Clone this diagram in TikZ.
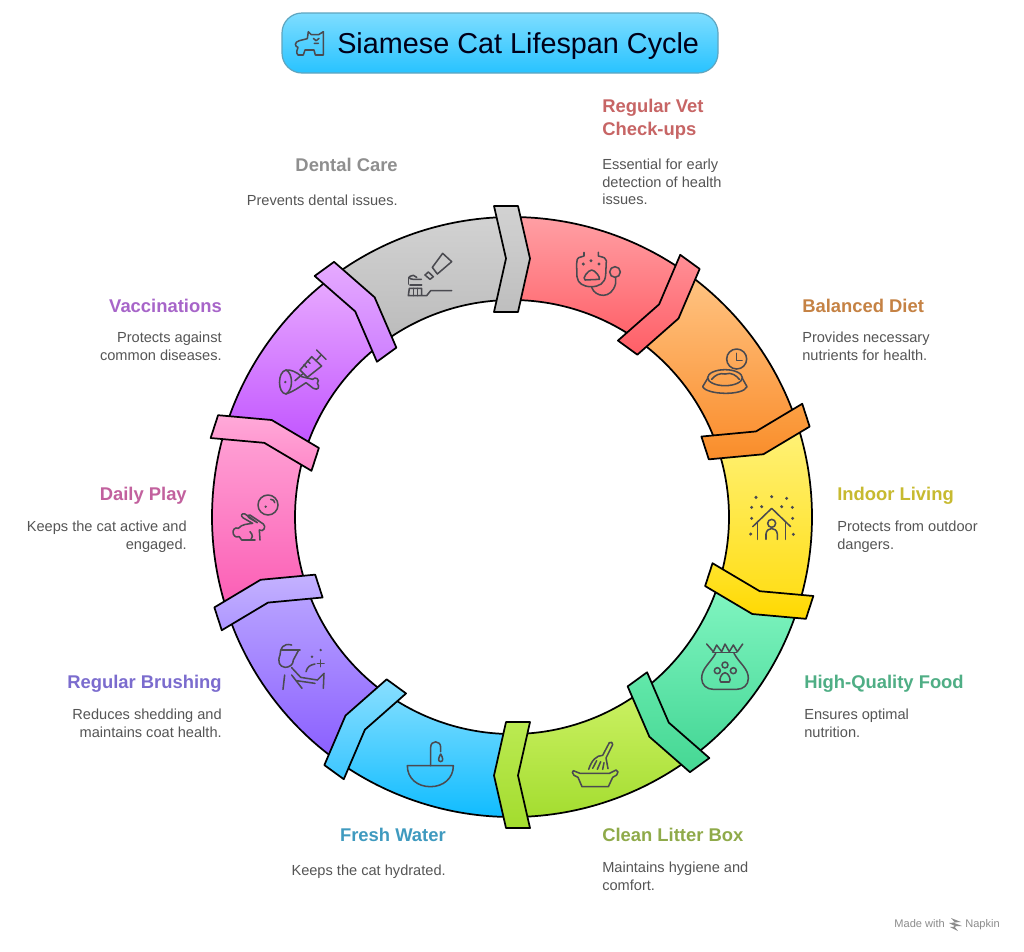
\documentclass[tikz,border=0pt]{standalone}
\usepackage{fontspec}
\setmainfont{Liberation Sans}
\usetikzlibrary{calc}
\definecolor{stroke}{HTML}{505054}
\definecolor{iconc}{HTML}{4A4A50}
\definecolor{titleline}{HTML}{5FA5BF}
\definecolor{seg0T}{HTML}{D2D2D2}\definecolor{seg0B}{HTML}{BBBBBB}
\definecolor{seg1T}{HTML}{FF9FA4}\definecolor{seg1B}{HTML}{FF6068}
\definecolor{seg2T}{HTML}{FFC483}\definecolor{seg2B}{HTML}{FA8E2E}
\definecolor{seg3T}{HTML}{FFF27A}\definecolor{seg3B}{HTML}{FFDD12}
\definecolor{seg4T}{HTML}{82F6C2}\definecolor{seg4B}{HTML}{45D796}
\definecolor{seg5T}{HTML}{CBF163}\definecolor{seg5B}{HTML}{A4DD30}
\definecolor{seg6T}{HTML}{7EDDFF}\definecolor{seg6B}{HTML}{10BCFF}
\definecolor{seg7T}{HTML}{BAA6FF}\definecolor{seg7B}{HTML}{8A5EFF}
\definecolor{seg8T}{HTML}{FFA4D6}\definecolor{seg8B}{HTML}{FB5CB4}
\definecolor{seg9T}{HTML}{E9ACFF}\definecolor{seg9B}{HTML}{C052FF}
\definecolor{chv0T}{HTML}{D2D2D2}\definecolor{chv0B}{HTML}{BEBEBE}
\definecolor{chv1T}{HTML}{FF8F96}\definecolor{chv1B}{HTML}{FF5E66}
\definecolor{chv2T}{HTML}{FBA044}\definecolor{chv2B}{HTML}{F98C2A}
\definecolor{chv3T}{HTML}{FFE42C}\definecolor{chv3B}{HTML}{FFD800}
\definecolor{chv4T}{HTML}{62E8AA}\definecolor{chv4B}{HTML}{46D794}
\definecolor{chv5T}{HTML}{BBEA52}\definecolor{chv5B}{HTML}{A3DC2E}
\definecolor{chv6T}{HTML}{88DFFF}\definecolor{chv6B}{HTML}{3CC6FF}
\definecolor{chv7T}{HTML}{C4B2FF}\definecolor{chv7B}{HTML}{AE96FF}
\definecolor{chv8T}{HTML}{FFAAD9}\definecolor{chv8B}{HTML}{FF88C8}
\definecolor{chv9T}{HTML}{E6AAFF}\definecolor{chv9B}{HTML}{CE80FF}
\definecolor{hRed}{HTML}{C76565}
\definecolor{hOrange}{HTML}{C58244}
\definecolor{hYellow}{HTML}{C7BA30}
\definecolor{hGreen}{HTML}{4FAE85}
\definecolor{hLime}{HTML}{8FAA4A}
\definecolor{hBlue}{HTML}{3F9ABF}
\definecolor{hIndigo}{HTML}{7B6CCE}
\definecolor{hPink}{HTML}{C2619E}
\definecolor{hViolet}{HTML}{A765C9}
\definecolor{hGray}{HTML}{8F8F8F}
\definecolor{bodyc}{HTML}{555555}
\tikzset{
  head/.style={font=\fontsize{13.8}{17.3}\selectfont\bfseries,inner sep=0pt},
  body/.style={font=\fontsize{10.95}{13.2}\selectfont,inner sep=0pt,text=bodyc},
  icon/.style={draw=iconc,line width=1.15pt,line cap=round,line join=round,fill=none},
}
\begin{document}
\begin{tikzpicture}[x=0.75pt,y=-0.75pt]
\useasboundingbox (0,0) rectangle (1024,951);
\fill[white] (0,0) rectangle (1024,951);
% title
\shade[top color=seg6T,bottom color=seg6B!90!white,rounded corners=15pt] (282,13) rectangle (718,73);
\draw[draw=titleline,line width=0.9pt,rounded corners=15pt] (282,13) rectangle (718,73);
\node[inner sep=0pt,anchor=west,font=\fontsize{21.6}{26}\selectfont,text=black!90!blue] (title) at (337,46.5) {Siamese Cat Lifespan Cycle};
% ring
\begin{scope}[shift={(512,517)}]
\foreach \k in {0,...,9}{
  \pgfmathsetmacro\as{-126+36*\k}
  \pgfmathsetmacro\ae{-90+36*\k}
  \shade[top color=seg\k T,bottom color=seg\k B]
    (\as:300) arc[start angle=\as,end angle=\ae,radius=300] -- (\ae:217) arc[start angle=\ae,end angle=\as,radius=217] -- cycle;
  \draw[stroke,line width=1.3pt] (\as:300) arc[start angle=\as,end angle=\ae,radius=300];
  \draw[stroke,line width=1.3pt] (\as:217) arc[start angle=\as,end angle=\ae,radius=217];
}
\foreach \k in {1,...,9,0}{
  \begin{scope}[rotate=-36*\k]
  \shade[top color=chv\k T,bottom color=chv\k B]
    (-18,-311) -- (6,-311) -- (18,-258.5) -- (6,-205) -- (-18,-205) -- (-6,-258.5) -- cycle;
  \draw[stroke,line width=1.3pt,line join=round]
    (-18,-311) -- (6,-311) -- (18,-258.5) -- (6,-205) -- (-18,-205) -- (-6,-258.5) -- cycle;
  \end{scope}
}
\end{scope}
% texts
\node[head,text=hRed,anchor=west,align=left] (t1) at (602,119.5) {Regular Vet\\Check-ups};
\node[body,anchor=west,align=left] (d1) at (602,182) {Essential for early\\detection of health\\issues.};
\node[head,text=hOrange,anchor=west] (t2) at (802,306) {Balanced Diet};
\node[body,anchor=west,align=left] (d2) at (802,346.5) {Provides necessary\\nutrients for health.};
\node[head,text=hYellow,anchor=west] (t3) at (837,496) {Indoor Living};
\node[body,anchor=west,align=left] (d3) at (837,536.5) {Protects from outdoor\\dangers.};
\node[head,text=hGreen,anchor=west] (t4) at (804,684) {High-Quality Food};
\node[body,anchor=west,align=left] (d4) at (804,723.5) {Ensures optimal\\nutrition.};
\node[head,text=hLime,anchor=west] (t5) at (602,835) {Clean Litter Box};
\node[body,anchor=west,align=left] (d5) at (602,876) {Maintains hygiene and\\comfort.};
\node[head,text=hBlue,anchor=east] (t6) at (446,835) {Fresh Water};
\node[body,anchor=east] (d6) at (446,872) {Keeps the cat hydrated.};
\node[head,text=hIndigo,anchor=east] (t7) at (222,684) {Regular Brushing};
\node[body,anchor=east,align=right] (d7) at (222,723.5) {Reduces shedding and\\maintains coat health.};
\node[head,text=hPink,anchor=east] (t8) at (187,496) {Daily Play};
\node[body,anchor=east,align=right] (d8) at (187,537) {Keeps the cat active and\\engaged.};
\node[head,text=hViolet,anchor=east] (t9) at (222,306) {Vaccinations};
\node[body,anchor=east,align=right] (d9) at (222,346.5) {Protects against\\common diseases.};
\node[head,text=hGray,anchor=east] (t0) at (398,165) {Dental Care};
\node[body,anchor=east] (d0) at (398,200) {Prevents dental issues.};
\node[inner sep=0pt,anchor=east,font=\fontsize{8.3}{10}\selectfont,text=black!45] (mk) at (1000,925) {Made with \hspace{13pt}Napkin};
\fill[black!45] (951,918) -- (961,922) -- (953,922.5) -- (962,926) -- (954,926) -- (958,931) -- (950,927) -- (956,926.5) -- (949,923) -- (955,922.5) -- cycle;
% cat icon, zoom coords of title crop
\begin{scope}[shift={(270,0)},x=0.25pt,y=-0.25pt]
\draw[icon] (115,95) -- (124,104) -- (146,104) -- (160,95) -- (160,165) -- (136,165) -- (132,150) -- (105,150) -- (100,165) -- (84,165) .. controls (78,160) and (80,148) .. (84,142) .. controls (74,140) and (72,126) .. (88,122) -- (112,116) -- cycle;
\draw[icon] (130,115) -- (138,122) (147,115) -- (139,122) (133,130) -- (145,130);
\end{scope}
% icons upper right
\begin{scope}[shift={(480,190)},x=0.25pt,y=-0.25pt]
\draw[icon] (312,187) -- (312,198) -- (296,203) .. controls (288,206) and (290,225) .. (291,260) .. controls (293,280) and (310,290) .. (333,290) .. controls (358,290) and (375,280) .. (377,255) -- (379,212) .. controls (379,204) and (372,202) .. (355,198) -- (355,187);
\fill[iconc] (310,222) circle[radius=5] (333,212) circle[radius=5] (357,222) circle[radius=5];
\draw[icon] (335,240) .. controls (345,240) and (362,262) .. (358,268) -- (315,270) .. controls (305,265) and (325,240) .. (335,240) -- cycle;
\draw[icon] (335,292) .. controls (345,322) and (395,330) .. (407,280) -- (407,263);
\draw[icon] (405,246) circle[radius=16];
% bowl and clock
\draw[icon] (770,507) circle[radius=30];
\draw[icon] (770,490) -- (770,512) -- (786,512);
\draw[icon] (735,563) ellipse[x radius=52,y radius=24];
\draw[icon] (683,565) -- (668,590) .. controls (680,615) and (790,618) .. (801,590) -- (787,565);
\draw[icon] (695,568) .. controls (705,555) and (720,548) .. (735,552) .. controls (755,545) and (770,558) .. (778,568);
\end{scope}
% icons lower right
\begin{scope}[shift={(480,480)},x=0.25pt,y=-0.25pt]
\fill[iconc] (828,52) circle[radius=5] (875,50) circle[radius=5] (920,55) circle[radius=5] (815,82) circle[radius=5] (845,80) circle[radius=5] (905,80) circle[radius=5] (937,82) circle[radius=5] (815,115) circle[radius=5] (938,115) circle[radius=5] (812,162) circle[radius=5] (940,163) circle[radius=5];
\draw[icon] (818,140) -- (875,85) -- (932,140);
\draw[icon] (833,125) -- (833,178) (917,125) -- (917,178);
\draw[icon] (875,130) circle[radius=12];
\draw[icon] (858,178) -- (858,162) .. controls (860,140) and (890,140) .. (892,162) -- (892,178);
% bag
\draw[icon] (680,492) -- (700,515) -- (710,495) -- (725,515) -- (735,492) -- (748,515) -- (760,495) -- (772,515) -- (788,492);
\draw[icon] (698,517) -- (770,517);
\draw[icon] (707,520) .. controls (690,550) and (665,565) .. (665,595) .. controls (665,615) and (680,628) .. (700,628) -- (770,628) .. controls (790,628) and (805,615) .. (805,595) .. controls (805,565) and (778,550) .. (762,520);
\draw[icon] (712,572) circle[radius=9] (735,555) circle[radius=9] (760,572) circle[radius=9];
\draw[icon] (735,578) .. controls (745,578) and (755,600) .. (748,606) -- (722,606) .. controls (715,600) and (725,578) .. (735,578) -- cycle;
% litter box
\draw[icon] (280,872) -- (300,880) -- (388,880) -- (408,870) .. controls (415,870) and (416,880) .. (410,885) -- (398,892) -- (385,920) -- (306,920) -- (294,892) -- (282,886) .. controls (276,882) and (276,872) .. (280,872) -- cycle;
\draw[icon] (388,788) .. controls (392,784) and (400,788) .. (398,794) -- (378,834) -- (384,866);
\draw[icon] (388,788) -- (368,826) .. controls (350,826) and (335,840) .. (326,868);
\draw[icon] (338,865) -- (350,842) (352,868) -- (362,845) (368,868) -- (372,848);
\end{scope}
% icons lower left
\begin{scope}[shift={(200,480)},x=0.25pt,y=-0.25pt]
% sink
\draw[icon] (622,857) -- (760,857) .. controls (760,895) and (730,920) .. (691,920) .. controls (652,920) and (622,895) .. (622,857) -- cycle;
\draw[icon] (692,857) -- (692,802) .. controls (692,780) and (722,780) .. (722,802) -- (722,815);
\draw[icon] (722,822) .. controls (716,832) and (712,844) .. (722,845) .. controls (732,844) and (728,832) .. (722,822) -- cycle;
% person
\draw[icon] (245,510) -- (300,510);
\draw[icon] (275,495) .. controls (250,488) and (240,505) .. (240,525) .. controls (232,545) and (238,560) .. (255,562) .. controls (268,562) and (280,555) .. (280,540) -- (295,512);
\draw[icon] (275,563) -- (302,592) -- (352,600) -- (372,580) -- (370,625);
\draw[icon] (275,585) -- (306,625) (290,602) -- (345,610);
\draw[icon] (254,585) -- (249,628);
\draw[icon] (318,575) .. controls (322,560) and (330,555) .. (345,552);
\fill[iconc] (336,530) circle[radius=4] (362,510) circle[radius=4];
\draw[icon] (362,540) -- (362,560) (352,550) -- (372,550);
% rabbit
\draw[icon] (204,75) circle[radius=30];
\draw[icon] (212,58) .. controls (220,58) and (224,62) .. (224,68);
\fill[iconc] (197,80) circle[radius=4];
\draw[icon] (178,150) .. controls (190,158) and (200,140) .. (190,132) -- (150,105) .. controls (145,102) and (140,108) .. (148,114) -- (172,128) -- (135,102) .. controls (125,98) and (120,108) .. (130,114) -- (158,130) .. controls (145,132) and (125,132) .. (115,145) .. controls (105,140) and (96,150) .. (100,162) .. controls (104,172) and (112,172) .. (118,170) -- (125,180) -- (165,180);
\draw[icon] (178,150) -- (180,180) (150,155) .. controls (160,165) and (158,175) .. (152,180);
\end{scope}
% icons upper left
\begin{scope}[shift={(200,190)},x=0.25pt,y=-0.25pt]
% toothpaste
\draw[icon] (697,232) -- (728,190) -- (755,215) -- (712,252) -- cycle;
\draw[icon] (675,255) -- (685,246) -- (700,260) -- (690,268) -- cycle;
\draw[icon] (755,302) -- (692,302) -- (680,317) -- (625,317) -- (628,295) -- (665,295) -- (665,317);
\draw[icon] (640,295) -- (640,317) (653,295) -- (653,317);
\draw[icon] (664,268) -- (640,268) .. controls (625,268) and (622,258) .. (640,256) -- (650,262);
\draw[icon] (630,285) -- (665,285);
\draw[icon] (625,262) -- (625,282);
% syringe
\draw[icon] (350,480) -- (378,508);
\draw[icon] (364,494) -- (350,510);
\draw[icon] (335,500) -- (365,528) -- (322,562) -- (300,540) -- cycle;
\draw[icon] (322,512) -- (330,520) (312,524) -- (320,532);
\draw[icon] (308,552) -- (285,572);
% meat
\draw[icon] (258,540) .. controls (232,545) and (232,610) .. (258,612) .. controls (280,605) and (300,590) .. (318,578) -- (340,595) .. controls (355,603) and (360,590) .. (352,580) .. controls (362,568) and (345,558) .. (338,568) -- (305,560) .. controls (290,545) and (270,538) .. (258,540) -- cycle;
\draw[icon] (258,540) .. controls (280,550) and (280,600) .. (258,612);
\fill[iconc] (256,576) circle[radius=4];
\end{scope}
\end{tikzpicture}
\end{document}
